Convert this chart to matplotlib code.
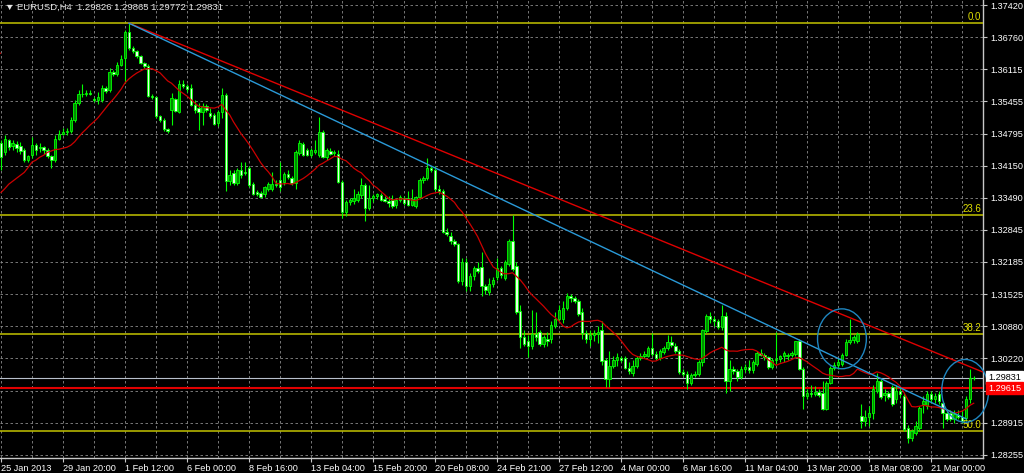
import numpy as np
import pandas as pd
import matplotlib
matplotlib.use('Agg')
import matplotlib.pyplot as plt
from matplotlib.patches import Ellipse
from matplotlib.transforms import blended_transform_factory

# EURUSD H4 bars, 25 Jan 2013 .. 22 Mar 2013
open_ = [
    1.3460, 1.3442, 1.3466, 1.3454, 1.3458, 1.3454, 1.3446, 1.3426, 1.3436, 1.3456,
    1.3450, 1.3452, 1.3446, 1.3434, 1.3426, 1.3470, 1.3479, 1.3483, 1.3485, 1.3507,
    1.3542, 1.3560, 1.3560, 1.3562, 1.3550, 1.3548, 1.3548, 1.3572, 1.3568, 1.3605,
    1.3601, 1.3619, 1.3634, 1.3687, 1.3654, 1.3648, 1.3638, 1.3623, 1.3617, 1.3556,
    1.3554, 1.3515, 1.3507, 1.3489, 1.3528, 1.3550, 1.3524, 1.3581, 1.3577, 1.3572,
    1.3538, 1.3532, 1.3524, 1.3536, 1.3521, 1.3517, 1.3501, 1.3524, 1.3558, 1.3383,
    1.3399, 1.3379, 1.3405, 1.3401, 1.3409, 1.3377, 1.3362, 1.3360, 1.3358, 1.3368,
    1.3368, 1.3377, 1.3385, 1.3381, 1.3397, 1.3389, 1.3379, 1.3440, 1.3458, 1.3446,
    1.3436, 1.3442, 1.3436, 1.3483, 1.3432, 1.3444, 1.3440, 1.3438, 1.3381, 1.3320,
    1.3340, 1.3342, 1.3344, 1.3354, 1.3375, 1.3328, 1.3348, 1.3352, 1.3354, 1.3346,
    1.3342, 1.3344, 1.3334, 1.3344, 1.3348, 1.3348, 1.3334, 1.3332, 1.3350, 1.3385,
    1.3389, 1.3409, 1.3405, 1.3368, 1.3364, 1.3279, 1.3271, 1.3262, 1.3256, 1.3179,
    1.3218, 1.3169, 1.3189, 1.3207, 1.3209, 1.3169, 1.3158, 1.3173, 1.3187, 1.3207,
    1.3185, 1.3215, 1.3262, 1.3211, 1.3118, 1.3065, 1.3058, 1.3048, 1.3071, 1.3075,
    1.3052, 1.3062, 1.3062, 1.3089, 1.3103, 1.3103, 1.3124, 1.3150, 1.3146, 1.3140,
    1.3116, 1.3073, 1.3062, 1.3069, 1.3071, 1.3079, 1.3018, 1.2981, 1.3007, 1.3018,
    1.3022, 1.3022, 1.3003, 1.2993, 1.3007, 1.3022, 1.3028, 1.3028, 1.3044, 1.3032,
    1.3022, 1.3036, 1.3044, 1.3056, 1.3048, 1.3038, 1.2995, 1.2991, 1.2973, 1.2989,
    1.2991, 1.3014, 1.3077, 1.3109, 1.3103, 1.3099, 1.3087, 1.3109, 1.2977, 1.3001,
    1.2997, 1.2985, 1.3001, 1.3005, 1.2999, 1.3011, 1.3034, 1.3030, 1.3024, 1.3005,
    1.3018, 1.3020, 1.3026, 1.3026, 1.3030, 1.3032, 1.3058, 1.3001, 1.2946, 1.2952,
    1.2950, 1.2954, 1.2952, 1.2920, 1.2973, 1.3003, 1.3009, 1.3011, 1.3030, 1.3056,
    1.3060, 1.3058, 1.2905, 1.2895, 1.2903, 1.2911, 1.2956, 1.2977, 1.2948, 1.2952,
    1.2963, 1.2940, 1.2956, 1.2946, 1.2881, 1.2860, 1.2871, 1.2881, 1.2930, 1.2926,
    1.2950, 1.2940, 1.2950, 1.2932, 1.2911, 1.2911, 1.2899, 1.2907, 1.2903, 1.2901,
    1.2940, 1.29826,
]
high = [
    1.3466, 1.3477, 1.3470, 1.3466, 1.3464, 1.3462, 1.3450, 1.3436, 1.3473, 1.3460,
    1.3460, 1.3454, 1.3450, 1.3436, 1.3477, 1.3487, 1.3491, 1.3491, 1.3513, 1.3548,
    1.3568, 1.3581, 1.3568, 1.3568, 1.3554, 1.3564, 1.3579, 1.3577, 1.3613, 1.3609,
    1.3626, 1.3640, 1.3691, 1.3705, 1.3658, 1.3650, 1.3640, 1.3626, 1.3621, 1.3560,
    1.3556, 1.3517, 1.3511, 1.3491, 1.3562, 1.3552, 1.3589, 1.3589, 1.3581, 1.3581,
    1.3548, 1.3542, 1.3542, 1.3540, 1.3532, 1.3521, 1.3528, 1.3572, 1.3562, 1.3405,
    1.3405, 1.3409, 1.3422, 1.3422, 1.3415, 1.3381, 1.3366, 1.3364, 1.3373, 1.3381,
    1.3401, 1.3385, 1.3422, 1.3401, 1.3405, 1.3393, 1.3446, 1.3466, 1.3462, 1.3450,
    1.3450, 1.3466, 1.3513, 1.3487, 1.3450, 1.3450, 1.3446, 1.3446, 1.3385, 1.3344,
    1.3348, 1.3368, 1.3364, 1.3389, 1.3379, 1.3375, 1.3356, 1.3360, 1.3360, 1.3352,
    1.3352, 1.3354, 1.3348, 1.3354, 1.3352, 1.3364, 1.3368, 1.3352, 1.3389, 1.3393,
    1.3430, 1.3415, 1.3415, 1.3375, 1.3368, 1.3287, 1.3279, 1.3266, 1.3258, 1.3226,
    1.3226, 1.3197, 1.3211, 1.3218, 1.3238, 1.3173, 1.3185, 1.3187, 1.3226, 1.3211,
    1.3222, 1.3266, 1.3315, 1.3218, 1.3130, 1.3079, 1.3069, 1.3120, 1.3116, 1.3079,
    1.3069, 1.3075, 1.3099, 1.3116, 1.3130, 1.3140, 1.3156, 1.3154, 1.3150, 1.3144,
    1.3124, 1.3079, 1.3079, 1.3079, 1.3089, 1.3099, 1.3022, 1.3038, 1.3028, 1.3034,
    1.3028, 1.3028, 1.3014, 1.3018, 1.3028, 1.3034, 1.3038, 1.3048, 1.3073, 1.3038,
    1.3042, 1.3048, 1.3069, 1.3067, 1.3054, 1.3042, 1.3001, 1.2997, 1.2993, 1.2997,
    1.3018, 1.3083, 1.3113, 1.3116, 1.3109, 1.3103, 1.3130, 1.3116, 1.3018, 1.3007,
    1.3001, 1.3007, 1.3011, 1.3018, 1.3018, 1.3038, 1.3042, 1.3034, 1.3028, 1.3022,
    1.3075, 1.3030, 1.3038, 1.3034, 1.3038, 1.3058, 1.3062, 1.3005, 1.2960, 1.2967,
    1.2965, 1.2960, 1.2977, 1.2977, 1.3007, 1.3014, 1.3022, 1.3034, 1.3062, 1.3103,
    1.3069, 1.3075, 1.2930, 1.2916, 1.2926, 1.2967, 1.2993, 1.2981, 1.2960, 1.2956,
    1.2967, 1.2967, 1.2963, 1.2952, 1.2887, 1.2879, 1.2895, 1.2926, 1.2946, 1.2956,
    1.2956, 1.2952, 1.2956, 1.2936, 1.2920, 1.2916, 1.2916, 1.2916, 1.2916, 1.2946,
    1.3001, 1.29865,
]
low = [
    1.3405, 1.3436, 1.3446, 1.3446, 1.3442, 1.3438, 1.3422, 1.3422, 1.3430, 1.3436,
    1.3442, 1.3438, 1.3430, 1.3409, 1.3422, 1.3466, 1.3477, 1.3477, 1.3481, 1.3503,
    1.3538, 1.3554, 1.3556, 1.3558, 1.3544, 1.3540, 1.3544, 1.3562, 1.3564, 1.3597,
    1.3597, 1.3617, 1.3583, 1.3650, 1.3644, 1.3634, 1.3621, 1.3613, 1.3554, 1.3550,
    1.3511, 1.3503, 1.3485, 1.3481, 1.3497, 1.3524, 1.3521, 1.3572, 1.3564, 1.3536,
    1.3521, 1.3487, 1.3497, 1.3524, 1.3511, 1.3497, 1.3495, 1.3511, 1.3364, 1.3375,
    1.3375, 1.3375, 1.3389, 1.3395, 1.3371, 1.3354, 1.3352, 1.3348, 1.3350, 1.3364,
    1.3364, 1.3371, 1.3364, 1.3375, 1.3387, 1.3375, 1.3368, 1.3436, 1.3434, 1.3434,
    1.3432, 1.3438, 1.3432, 1.3430, 1.3426, 1.3436, 1.3434, 1.3379, 1.3309, 1.3313,
    1.3334, 1.3336, 1.3340, 1.3348, 1.3303, 1.3324, 1.3340, 1.3346, 1.3342, 1.3340,
    1.3330, 1.3328, 1.3328, 1.3340, 1.3334, 1.3332, 1.3332, 1.3328, 1.3346, 1.3379,
    1.3385, 1.3401, 1.3364, 1.3358, 1.3277, 1.3271, 1.3256, 1.3252, 1.3175, 1.3171,
    1.3160, 1.3160, 1.3181, 1.3197, 1.3150, 1.3154, 1.3152, 1.3167, 1.3181, 1.3185,
    1.3181, 1.3211, 1.3201, 1.3113, 1.3044, 1.3048, 1.3024, 1.3042, 1.3058, 1.3048,
    1.3046, 1.3048, 1.3054, 1.3085, 1.3099, 1.3095, 1.3120, 1.3136, 1.3134, 1.3109,
    1.3062, 1.3054, 1.3048, 1.3058, 1.3054, 1.3009, 1.2963, 1.2963, 1.3003, 1.3007,
    1.3014, 1.3001, 1.2991, 1.2987, 1.3003, 1.3018, 1.3022, 1.3024, 1.3028, 1.3018,
    1.3018, 1.3032, 1.3040, 1.3046, 1.3034, 1.2991, 1.2987, 1.2960, 1.2967, 1.2985,
    1.2987, 1.3007, 1.3073, 1.3095, 1.3089, 1.3083, 1.3079, 1.2952, 1.2956, 1.2991,
    1.2977, 1.2981, 1.2995, 1.2993, 1.2993, 1.3007, 1.3026, 1.3018, 1.3001, 1.3001,
    1.3011, 1.3014, 1.3014, 1.3018, 1.3024, 1.3028, 1.2999, 1.2920, 1.2940, 1.2944,
    1.2946, 1.2944, 1.2916, 1.2916, 1.2969, 1.2999, 1.3001, 1.3007, 1.3026, 1.3052,
    1.3054, 1.3054, 1.2881, 1.2885, 1.2885, 1.2899, 1.2952, 1.2940, 1.2936, 1.2940,
    1.2926, 1.2932, 1.2944, 1.2875, 1.2850, 1.2854, 1.2867, 1.2875, 1.2911, 1.2920,
    1.2932, 1.2932, 1.2930, 1.2881, 1.2895, 1.2895, 1.2891, 1.2899, 1.2891, 1.2895,
    1.2932, 1.29772,
]
close = [
    1.3432, 1.3470, 1.3452, 1.3460, 1.3450, 1.3444, 1.3426, 1.3434, 1.3456, 1.3446,
    1.3452, 1.3446, 1.3434, 1.3426, 1.3470, 1.3479, 1.3483, 1.3485, 1.3507, 1.3542,
    1.3560, 1.3560, 1.3562, 1.3560, 1.3548, 1.3554, 1.3572, 1.3566, 1.3605, 1.3601,
    1.3619, 1.3632, 1.3687, 1.3654, 1.3648, 1.3638, 1.3623, 1.3617, 1.3556, 1.3554,
    1.3515, 1.3507, 1.3489, 1.3485, 1.3552, 1.3526, 1.3581, 1.3577, 1.3570, 1.3538,
    1.3528, 1.3524, 1.3536, 1.3528, 1.3515, 1.3499, 1.3524, 1.3558, 1.3383, 1.3395,
    1.3379, 1.3405, 1.3395, 1.3399, 1.3375, 1.3358, 1.3358, 1.3350, 1.3371, 1.3377,
    1.3377, 1.3375, 1.3371, 1.3397, 1.3391, 1.3379, 1.3442, 1.3460, 1.3436, 1.3436,
    1.3446, 1.3446, 1.3483, 1.3432, 1.3446, 1.3438, 1.3442, 1.3381, 1.3320, 1.3340,
    1.3344, 1.3348, 1.3358, 1.3375, 1.3328, 1.3348, 1.3352, 1.3356, 1.3344, 1.3342,
    1.3338, 1.3332, 1.3344, 1.3350, 1.3338, 1.3334, 1.3346, 1.3350, 1.3385, 1.3389,
    1.3409, 1.3405, 1.3368, 1.3364, 1.3279, 1.3275, 1.3262, 1.3256, 1.3179, 1.3218,
    1.3169, 1.3189, 1.3207, 1.3201, 1.3169, 1.3162, 1.3173, 1.3181, 1.3207, 1.3191,
    1.3218, 1.3262, 1.3205, 1.3116, 1.3065, 1.3052, 1.3048, 1.3071, 1.3065, 1.3052,
    1.3065, 1.3058, 1.3091, 1.3103, 1.3120, 1.3124, 1.3150, 1.3146, 1.3140, 1.3113,
    1.3073, 1.3062, 1.3069, 1.3073, 1.3075, 1.3016, 1.2981, 1.3007, 1.3018, 1.3024,
    1.3018, 1.3003, 1.2997, 1.3007, 1.3022, 1.3028, 1.3032, 1.3044, 1.3032, 1.3022,
    1.3038, 1.3044, 1.3056, 1.3050, 1.3038, 1.2995, 1.2991, 1.2973, 1.2989, 1.2991,
    1.3014, 1.3079, 1.3109, 1.3103, 1.3099, 1.3087, 1.3109, 1.2977, 1.3001, 1.2997,
    1.2985, 1.3001, 1.3005, 1.2999, 1.3014, 1.3034, 1.3030, 1.3024, 1.3005, 1.3018,
    1.3020, 1.3026, 1.3034, 1.3030, 1.3034, 1.3058, 1.3001, 1.2946, 1.2952, 1.2950,
    1.2954, 1.2948, 1.2920, 1.2973, 1.3003, 1.3009, 1.3014, 1.3030, 1.3056, 1.3060,
    1.3065, 1.3071, 1.2895, 1.2903, 1.2911, 1.2960, 1.2977, 1.2944, 1.2952, 1.2944,
    1.2930, 1.2956, 1.2950, 1.2879, 1.2860, 1.2875, 1.2885, 1.2922, 1.2936, 1.2950,
    1.2940, 1.2946, 1.2936, 1.2911, 1.2899, 1.2899, 1.2909, 1.2903, 1.2895, 1.2940,
    1.2983, 1.29831,
]

# moving average values at the left edge (it needs bars before the window)
ma_period = 14
ma_head = [1.3360, 1.3368, 1.3377, 1.3383, 1.3389, 1.3395, 1.3401,
           1.3411, 1.3422, 1.3426, 1.3432, 1.3436, 1.3442]

# price scale ticks (1.29560 is hidden behind the price tags)
y_ticks = [1.37420, 1.36760, 1.36115, 1.35455, 1.34795, 1.34150, 1.33490,
           1.32845, 1.32185, 1.31525, 1.30880, 1.30220, 1.29560, 1.28915, 1.28255]
x_labels = ['25 Jan 2013', '29 Jan 20:00', '1 Feb 12:00', '6 Feb 00:00', '8 Feb 16:00',
            '13 Feb 04:00', '15 Feb 20:00', '20 Feb 08:00', '24 Feb 21:00', '27 Feb 12:00',
            '4 Mar 00:00', '6 Mar 16:00', '11 Mar 04:00', '13 Mar 20:00', '18 Mar 08:00',
            '21 Mar 00:00']
bars_per_label = 16

# drawn objects: fibonacci, trend lines (bar index, price), levels, circles
fib_high, fib_low = 1.3705, 1.2045
fib_levels = [0.0, 23.6, 38.2, 50.0]
dash_line = [(0, 1.3644), (33, 1.3705)]
red_line = [(33, 1.3705), (251, 1.3002)]
blue_line = [(33, 1.3705), (249, 1.2899)]
bid_price = 1.29831
level_price = 1.29615
circles = [(217.0, 1.3062, 12.6, 0.0122), (248.8, 1.2956, 12.1, 0.0128)]
header = '\u25bc EURUSD,H4  1.29826 1.29865 1.29772 1.29831'

plt.rcParams['font.family'] = ['Liberation Sans', 'DejaVu Sans']

fig = plt.figure(figsize=(10.24, 4.73), dpi=100, facecolor='black')
ax = fig.add_axes([0, 15 / 473, 983 / 1024, 458 / 473])
ax.set_facecolor('black')

o = np.array(open_)
c = np.array(close)
h = np.maximum(np.array(high), np.maximum(o, c))
l = np.minimum(np.array(low), np.minimum(o, c))
x = np.arange(len(c))

x_right = 253.4
ax.set_xlim(-0.26, x_right)
ax.set_ylim(1.28192, 1.37522)

# candles
ax.vlines(x, l, h, color='#00ff00', lw=0.8, zorder=4)
up = c >= o
ax.bar(x[up], c[up] - o[up], bottom=o[up], width=0.62, color='#008c00',
       edgecolor='#00ff00', linewidth=0.6, zorder=5)
ax.bar(x[~up], c[~up] - o[~up], bottom=o[~up], width=0.62, color='#e8ffe8',
       edgecolor='#00ff00', linewidth=0.6, zorder=5)

# moving average
ma = pd.Series(c).rolling(ma_period).mean().to_numpy()
ma[:len(ma_head)] = ma_head
ax.plot(x, ma, color='#cc0000', lw=0.9, zorder=6)

# fibonacci levels
for lev in fib_levels:
    p = fib_high - (fib_high - fib_low) * lev / 100
    ax.axhline(p, color='#b4b400', lw=1.2, zorder=3)
    ax.text(x_right - 0.4, p + 0.0002, '%.1f' % lev, color='#e0e000', fontsize=7,
            ha='right', va='bottom', zorder=7)

# horizontal lines
ax.axhline(bid_price, color='#b8c0cc', lw=0.8, zorder=3)
ax.axhline(level_price, color='#e00000', lw=1.5, zorder=3)


def line_points(pts, x_end=None):
    (x0, p0), (x1, p1) = pts
    if x_end is None:
        return [x0, x1], [p0, p1]
    slope = (p1 - p0) / (x1 - x0)
    return [x0, x_end], [p0, p0 + slope * (x_end - x0)]


ax.plot(*line_points(dash_line, -1), color='#b00000', lw=1.1, ls=(0, (3, 2)), zorder=6)
ax.plot(*line_points(red_line, x_right), color='#e00000', lw=1.0, zorder=6)
ax.plot(*line_points(blue_line), color='#2a9ad8', lw=1.0, zorder=6)

for cx, cy, w, hh in circles:
    ax.add_patch(Ellipse((cx, cy), w, hh, fill=False, ec='#1f86c0', lw=1.0,
                         zorder=7, clip_on=False))

# axes, ticks, grid
for side in ['top', 'left']:
    ax.spines[side].set_visible(False)
for side in ['right', 'bottom']:
    ax.spines[side].set_color('#c8c8c8')
    ax.spines[side].set_linewidth(1.0)

ax.yaxis.tick_right()
ax.set_yticks(y_ticks)
ax.set_yticklabels(['' if abs(t - 1.2956) < 1e-6 else '%.5f' % t for t in y_ticks])
ax.set_xticks(np.arange(len(x_labels)) * bars_per_label)
ax.set_xticklabels(x_labels)
ax.set_xticks(np.arange(len(x_labels)) * bars_per_label + bars_per_label // 2, minor=True)
for lab in ax.get_xticklabels():
    lab.set_ha('left')
ax.tick_params(axis='y', colors='#c8c8c8', labelcolor='white', labelsize=6.6,
               length=3, width=0.8, pad=2)
ax.tick_params(axis='x', colors='#c8c8c8', labelcolor='white', labelsize=6.6,
               length=3, width=0.8, pad=1)
ax.tick_params(axis='x', which='minor', length=0)
ax.grid(True, which='both', color='#8a8a8a', lw=0.6, ls=(0, (3, 3)))
ax.set_axisbelow(True)

# price tags on the scale
tr = blended_transform_factory(ax.transAxes, ax.transData)
ax.text(1.005, bid_price, '%.5f' % bid_price, transform=tr, fontsize=6.6, color='black',
        ha='left', va='center', clip_on=False, zorder=8,
        bbox=dict(boxstyle='square,pad=0.2', fc='white', ec='white'))
ax.text(1.005, level_price, '%.5f' % level_price, transform=tr, fontsize=6.6, color='white',
        ha='left', va='center', clip_on=False, zorder=8,
        bbox=dict(boxstyle='square,pad=0.2', fc='#ff0000', ec='#ff0000'))

ax.text(0.005, 0.983, header, transform=ax.transAxes, color='#e6e6e6', fontsize=6.8,
        ha='left', va='center', zorder=8)

fig.savefig('out.png', dpi=100, facecolor='black')
